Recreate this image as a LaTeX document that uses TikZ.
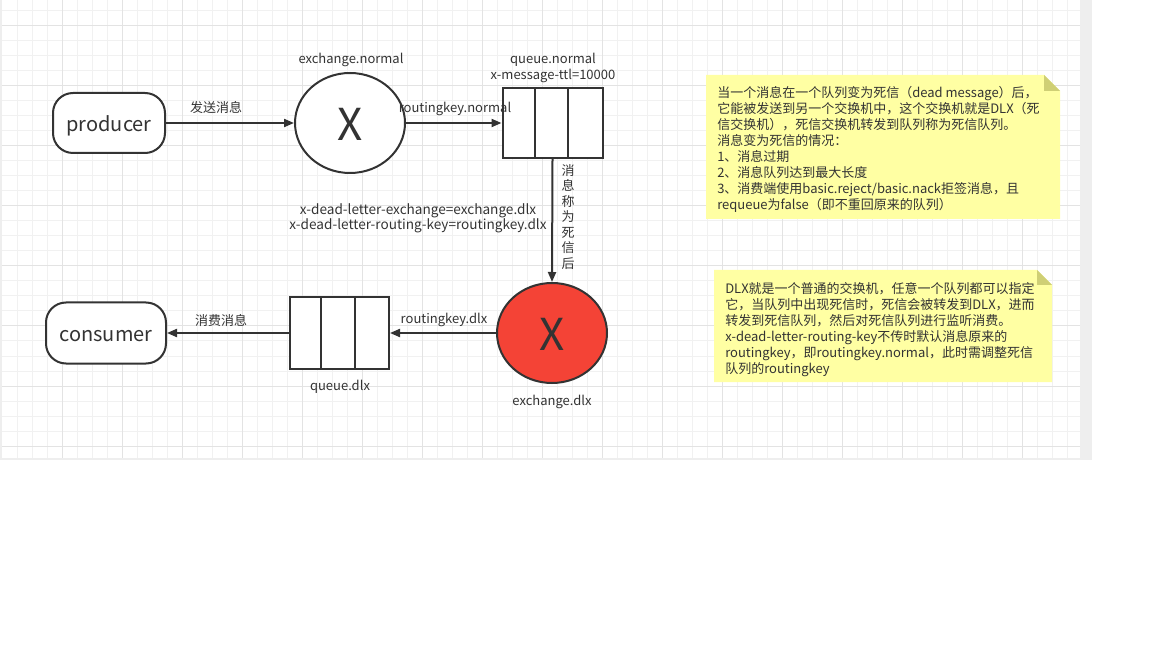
\documentclass[tikz,border=0pt]{standalone}
\usepackage{fontspec}
\setmainfont{Noto Sans CJK SC}
\usetikzlibrary{arrows.meta,shapes.geometric}
\definecolor{ink}{HTML}{333333}
\definecolor{gminor}{HTML}{F1F1F1}
\definecolor{gmajor}{HTML}{E3E3E3}
\definecolor{gedge}{HTML}{EEEEEE}
\definecolor{dlxred}{HTML}{F44336}
\definecolor{notefill}{HTML}{FFFFA3}
\definecolor{notefold}{HTML}{CFCF75}
\newcommand{\lowerby}[2]{\raisebox{-#1}[\height][\depth]{#2}}
\tikzset{
  lbl/.style={font=\fontsize{9.75pt}{11.7pt}\selectfont, text=ink, inner sep=0pt},
  term/.style={draw=ink, line width=1.5pt, rounded corners=15pt, fill=white,
    font=\fontsize{15pt}{18pt}\selectfont, text=ink, inner sep=0pt},
  exch/.style={ellipse, draw=ink, line width=1.5pt, minimum width=82.5pt, minimum height=75pt,
    font=\fontsize{33pt}{36pt}\selectfont, text=ink, fill=white, inner sep=0pt},
  queuebox/.style={draw=ink, line width=1.5pt, fill=white, inner sep=0pt},
  conn/.style={draw=ink, line width=1.5pt, -{Triangle[length=7.5pt,width=6pt]}},
  notetext/.style={font=\fontsize{9.75pt}{12pt}\selectfont, text=ink, inner sep=0pt, align=left, anchor=north west},
  minorline/.style={draw=gminor, line width=0.75pt},
  majorline/.style={draw=gmajor, line width=0.75pt},
}
\begin{document}
\begin{tikzpicture}[x=0.75pt,y=-0.75pt]
\useasboundingbox (0,0) rectangle (1152,648);
\fill[white] (0,0) rectangle (1152,648);
% canvas background and grid
\fill[gedge] (0,0) rectangle (1092,460);
\fill[white] (2.3,0) rectangle (1080,458);
\foreach \i in {1,...,71} {\draw[minorline] ({2.3+15*\i},0) -- ({2.3+15*\i},458);}
\foreach \j in {0,...,29} {\draw[minorline] (2.3,{11+15*\j}) -- (1080,{11+15*\j});}
\foreach \i in {1,...,17} {\draw[majorline] ({2.3+60*\i},0) -- ({2.3+60*\i},458);}
\foreach \j in {0,...,7} {\draw[majorline] (2.3,{26+60*\j}) -- (1080,{26+60*\j});}

% nodes
\node[term, minimum width=84pt, minimum height=45pt] (prod) at (109,123) {\lowerby{2pt}{producer}};
\node[exch] (exn) at (350,123) {\lowerby{0.75pt}{X}};
\node[queuebox, minimum width=75pt, minimum height=52.5pt] (qn) at (552.5,123) {};
\draw[ink, line width=1.5pt] (535,88) -- (535,158) (568,88) -- (568,158);
\node[exch, fill=dlxred] (exd) at (552,333) {\lowerby{0.75pt}{X}};
\node[queuebox, minimum width=74.25pt, minimum height=53.25pt] (qd) at (339.5,333) {};
\draw[ink, line width=1.5pt] (321,297.5) -- (321,368.5) (355,297.5) -- (355,368.5);
\node[term, minimum width=90pt, minimum height=45.75pt] (cons) at (106,333) {\lowerby{2.5pt}{consumer}};

% connectors
\draw[conn] (prod) -- (exn);
\draw[conn] (exn) -- (qn);
\draw[conn] (qn.south) -- (exd.north);
\draw[conn] (exd) -- (qd);
\draw[conn] (qd) -- (cons);

% labels
\node[lbl] (l1) at (216,108) {发送消息};
\node[lbl] (l2) at (455,109) {routingkey.normal};
\node[lbl] (l3) at (351,60) {exchange.normal};
\node[lbl, align=center, font=\fontsize{9.75pt}{11.5pt}\selectfont] (l4) at (553,68) {queue.normal\\x-message-ttl=10000};
\node[lbl, align=center, font=\fontsize{10.2pt}{11.5pt}\selectfont] (l5) at (418,218) {x-dead-letter-exchange=exchange.dlx\\x-dead-letter-routing-key=routingkey.dlx};
\node[lbl, align=center, font=\fontsize{9.75pt}{11.6pt}\selectfont] (l6) at (568,217) {消\\息\\称\\为\\死\\信\\后};
\node[lbl] (l7) at (444,320) {routingkey.dlx};
\node[lbl] (l8) at (340,387) {queue.dlx};
\node[lbl] (l9) at (552,402) {exchange.dlx};
\node[lbl] (l10) at (221,320) {消费消息};

% notes
\fill[notefill] (706,75) -- (1044,75) -- (1060,91) -- (1060,219) -- (706,219) -- cycle;
\fill[notefold] (1044,75) -- (1044,91) -- (1060,91) -- cycle;
\node[notetext] (n1) at (717,86.5) {当一个消息在一个队列变为死信（dead message）后，\\它能被发送到另一个交换机中，这个交换机就是DLX（死\\信交换机），死信交换机转发到队列称为死信队列。\\消息变为死信的情况：\\1、消息过期\\2、消息队列达到最大长度\\3、消费端使用basic.reject/basic.nack拒签消息，且\\requeue为false（即不重回原来的队列）};

\fill[notefill] (714,270) -- (1037,270) -- (1052,285) -- (1052,382) -- (714,382) -- cycle;
\fill[notefold] (1037,270) -- (1037,285) -- (1052,285) -- cycle;
\node[notetext] (n2) at (725,282) {DLX就是一个普通的交换机，任意一个队列都可以指定\\它，当队列中出现死信时，死信会被转发到DLX，进而\\转发到死信队列，然后对死信队列进行监听消费。\\x-dead-letter-routing-key不传时默认消息原来的\\routingkey，即routingkey.normal，此时需调整死信\\队列的routingkey};
\end{tikzpicture}
\end{document}
